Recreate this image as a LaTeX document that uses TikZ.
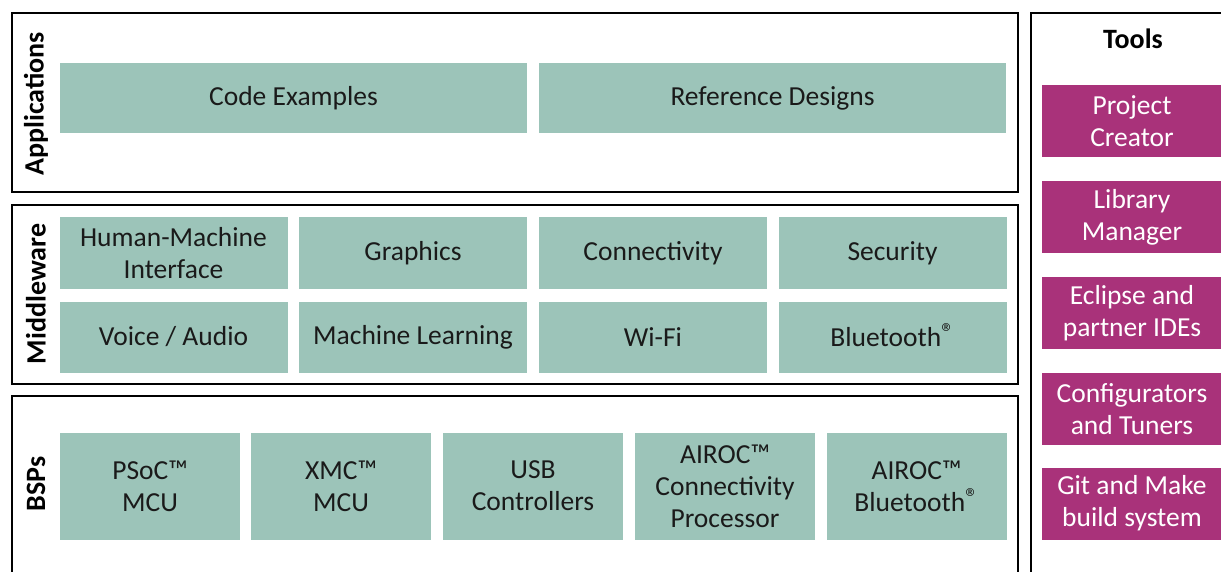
\documentclass[tikz,border=0pt]{standalone}
\usepackage{fontspec}
\setmainfont{Carlito}
\definecolor{gfill}{HTML}{9CC4B9}
\definecolor{mfill}{HTML}{A9327A}
\definecolor{txt}{HTML}{1A1A1A}
\newcommand{\regmark}{\smash{\raisebox{0.35ex}{\fontsize{26}{26}\selectfont ®}}}
\tikzset{
  frame/.style={draw=black, line width=2.2pt},
  gbox/.style={fill=gfill, draw=none, inner sep=0pt, align=center, text=txt,
    font=\fontsize{27.5}{32}\selectfont},
  tbox/.style={fill=mfill, draw=none, inner sep=0pt, align=center, text=white,
    minimum width=180pt, minimum height=72pt, font=\fontsize{27.5}{32}\selectfont},
  layerlabel/.style={rotate=90, text=black, inner sep=0pt, font=\fontsize{28}{30}\selectfont\bfseries}
}
\begin{document}
\begin{tikzpicture}[x=1pt,y=-1pt]
\useasboundingbox (0,0) rectangle (1221,572);
\clip (0,0) rectangle (1221,572);
% frames
\draw[frame] (12,13) rectangle (1018,192);
\draw[frame] (12,205) rectangle (1018,384);
\draw[frame] (12,396) rectangle (1018,620);
\draw[frame] (1031,13) rectangle (1260,620);
% layer labels
\node[layerlabel] (lapp) at (36,104) {Applications};
\node[layerlabel] (lmid) at (36,294) {Middleware};
\node[layerlabel] (lbsp) at (36,484) {BSPs};
\node[text=black, inner sep=0pt, font=\fontsize{28}{30}\selectfont\bfseries] (tools) at (1133,39) {Tools};
% applications
\node[gbox, minimum width=467pt, minimum height=70pt] (code) at (293.5,98) {Code Examples};
\node[gbox, minimum width=467pt, minimum height=70pt] (ref) at (772.5,98) {Reference Designs};
% middleware
\begin{scope}[every node/.append style={gbox, minimum width=228pt, minimum height=71pt}]
\node (hmi) at (173.5,253) {Human-Machine\\Interface};
\node (gfx) at (413,253) {Graphics};
\node (conn) at (653,253) {Connectivity};
\node (sec) at (892.5,253) {Security};
\node (voice) at (173.5,337) {Voice / Audio};
\node (ml) at (413,337) {Machine Learning};
\node (wifi) at (653,337) {Wi-Fi};
\node (bt) at (892.5,337) {Bluetooth\regmark};
\end{scope}
% BSPs
\begin{scope}[every node/.append style={gbox, minimum width=180pt, minimum height=107pt}]
\node (psoc) at (150,486) {PSoC™\\MCU};
\node (xmc) at (341,486) {XMC™\\MCU};
\node (usb) at (533,486) {USB\\Controllers};
\node (airocc) at (725,486) {AIROC™\\Connectivity\\Processor};
\node (airocb) at (916.5,486) {AIROC™\\Bluetooth\regmark};
\end{scope}
% tools
\node[tbox] (pc) at (1132,121) {Project\\Creator};
\node[tbox] (lm) at (1132,217) {Library\\Manager};
\node[tbox] (ide) at (1132,313) {Eclipse and\\partner IDEs};
\node[tbox] (cfg) at (1132,409) {Configurators\\and Tuners};
\node[tbox] (git) at (1132,503.5) {Git and Make\\build system};
\end{tikzpicture}
\end{document}
